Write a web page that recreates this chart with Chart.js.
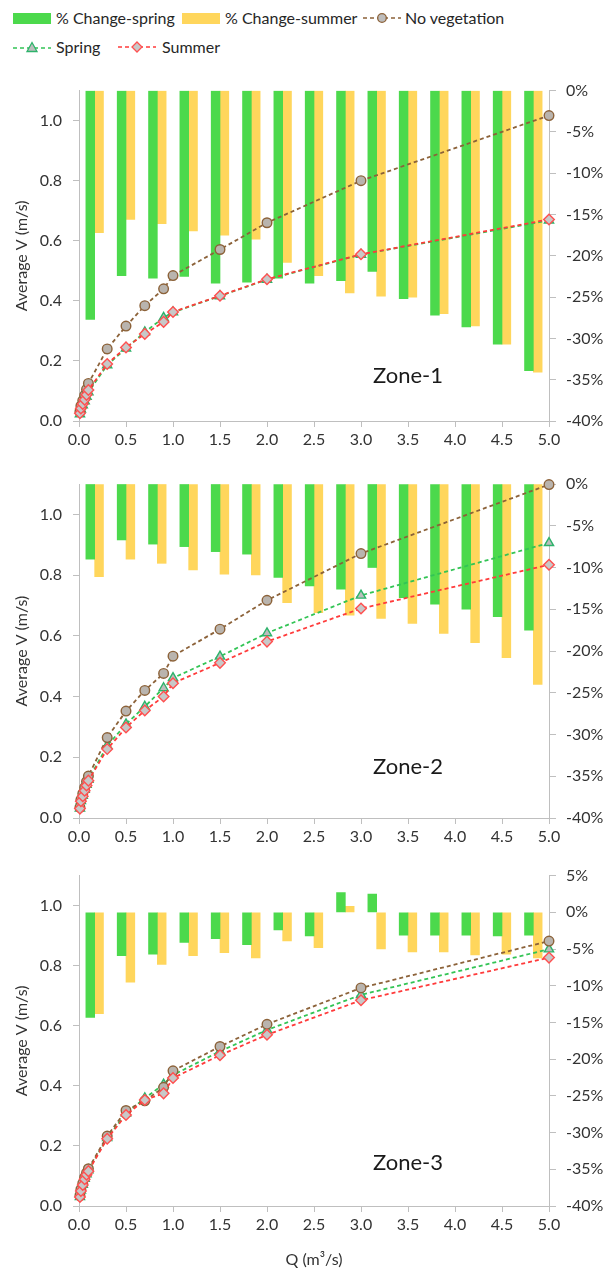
<!DOCTYPE html>
<html>
<head>
<meta charset="utf-8">
<script src="https://cdn.jsdelivr.net/npm/chart.js@4"></script>
<style>
  body { margin: 0; background: #fff; font-family: Lato, "Noto Sans", sans-serif; }
  #wrap { position: relative; width: 609px; height: 1269px; overflow: hidden; }
  canvas { position: absolute; left: 0; }
  .lg { position: absolute; font-size: 16px; color: #262626; line-height: 18px; white-space: nowrap; }
  .sw { position: absolute; }
</style>
</head>
<body>
<div id="wrap">
  <div class="sw" style="left:13px;top:13px;width:38px;height:11px;background:#4cd94c"></div>
  <div class="lg" style="left:56px;top:9px">% Change-spring</div>
  <div class="sw" style="left:182px;top:13px;width:38px;height:11px;background:#ffd65c"></div>
  <div class="lg" style="left:225px;top:9px">% Change-summer</div>
  <svg class="sw" style="left:362px;top:11px" width="40" height="14">
    <line x1="1" y1="7" x2="39" y2="7" stroke="#8c6239" stroke-width="1.5" stroke-dasharray="4,3"/>
    <circle cx="20" cy="7" r="4.3" fill="#bdbdbd" stroke="#8c6239" stroke-width="1.3"/>
  </svg>
  <div class="lg" style="left:405px;top:9px">No vegetation</div>
  <svg class="sw" style="left:12px;top:40px" width="40" height="14">
    <line x1="1" y1="8" x2="39" y2="8" stroke="#33c455" stroke-width="1.5" stroke-dasharray="4,3"/>
    <polygon points="20,2.5 25,11.5 15,11.5" fill="#bdbdbd" stroke="#2db36b" stroke-width="1.3"/>
  </svg>
  <div class="lg" style="left:56px;top:38px">Spring</div>
  <svg class="sw" style="left:117px;top:40px" width="40" height="14">
    <line x1="1" y1="7" x2="39" y2="7" stroke="#ff3b3b" stroke-width="1.5" stroke-dasharray="4,3"/>
    <polygon points="20,2 25,7 20,12 15,7" fill="#c8c8c8" stroke="#ff5050" stroke-width="1.3"/>
  </svg>
  <div class="lg" style="left:162px;top:38px">Summer</div>

  <canvas id="c1" width="609" height="381" style="top:70px"></canvas>
  <canvas id="c2" width="609" height="388" style="top:460px"></canvas>
  <canvas id="c3" width="609" height="414" style="top:855px"></canvas>
</div>
<script>
// discharge values (m3/s)
var Q = [0.01, 0.02, 0.04, 0.06, 0.08, 0.1, 0.3, 0.5, 0.7, 0.9, 1.0, 1.5, 2.0, 3.0, 5.0];

// Zone-1
var pctSpring1 = [-27.7, -22.4, -22.7, -22.5, -23.3, -23.2, -22.7, -23.3, -23.0, -21.9, -25.2, -27.2, -28.6, -30.7, -33.9];
var pctSummer1 = [-17.2, -15.6, -16.1, -17.0, -17.5, -18.0, -20.8, -22.4, -24.5, -24.9, -25.0, -27.0, -28.5, -30.7, -34.1];
var noVeg1 = [0.032, 0.05, 0.068, 0.085, 0.105, 0.125, 0.24, 0.316, 0.384, 0.44, 0.484, 0.571, 0.66, 0.80, 1.017];
var spring1 = [0.023, 0.039, 0.053, 0.066, 0.081, 0.096, 0.186, 0.242, 0.296, 0.344, 0.362, 0.416, 0.471, 0.554, 0.668];
var summer1 = [0.026, 0.042, 0.057, 0.071, 0.087, 0.103, 0.19, 0.245, 0.29, 0.33, 0.363, 0.417, 0.472, 0.555, 0.671];

// Zone-2
var pctSpring2 = [-9.0, -6.7, -7.2, -7.5, -8.1, -8.4, -11.2, -12.2, -12.6, -10.0, -13.6, -14.4, -15.0, -15.9, -17.5];
var pctSummer2 = [-11.1, -9.0, -9.5, -10.3, -10.8, -10.9, -14.2, -15.4, -15.7, -16.1, -16.7, -17.9, -19.0, -20.8, -24.0];
var noVeg2 = [0.035, 0.06, 0.08, 0.10, 0.12, 0.138, 0.265, 0.352, 0.42, 0.476, 0.533, 0.622, 0.717, 0.871, 1.098];
var spring2 = [0.032, 0.056, 0.074, 0.093, 0.11, 0.126, 0.238, 0.309, 0.367, 0.428, 0.461, 0.532, 0.609, 0.733, 0.906];
var summer2 = [0.031, 0.055, 0.072, 0.09, 0.107, 0.123, 0.227, 0.298, 0.354, 0.40, 0.444, 0.511, 0.581, 0.69, 0.834];

// Zone-3
var pctSpring3 = [-14.3, -5.9, -5.7, -4.1, -3.6, -4.4, -2.4, -3.2, 2.7, 2.5, -3.1, -3.1, -3.1, -3.2, -3.1];
var pctSummer3 = [-13.8, -9.5, -7.1, -5.9, -5.5, -6.2, -3.9, -4.8, 0.8, -5.0, -5.4, -5.4, -5.8, -5.7, -6.2];
var noVeg3 = [0.035, 0.055, 0.075, 0.095, 0.11, 0.124, 0.233, 0.318, 0.35, 0.395, 0.45, 0.531, 0.605, 0.726, 0.882];
var spring3 = [0.03, 0.052, 0.071, 0.091, 0.106, 0.119, 0.227, 0.308, 0.359, 0.405, 0.436, 0.515, 0.586, 0.703, 0.855];
var summer3 = [0.03, 0.05, 0.07, 0.089, 0.104, 0.116, 0.224, 0.303, 0.353, 0.375, 0.426, 0.502, 0.57, 0.685, 0.827];

var FONT = 'Lato, "Noto Sans", sans-serif';
var AXIS = '#bfbfbf';
var TXT = '#333333';

function pts(ys) {
  return Q.map(function (q, i) { return { x: q, y: ys[i] }; });
}

// draws the "Zone-n" text inside the plot
var zoneLabel = {
  id: 'zoneLabel',
  afterDraw: function (chart, args, opts) {
    var a = chart.chartArea, ctx = chart.ctx;
    ctx.save();
    ctx.font = '22px ' + FONT;
    ctx.fillStyle = '#1a1a1a';
    ctx.textAlign = 'center';
    ctx.textBaseline = 'middle';
    ctx.fillText(opts.text, a.left + a.width * 0.7, a.bottom - opts.dy);
    ctx.restore();
  }
};

function makeChart(id, zone, pS, pU, nv, sp, su, rMax, padTop, xHeight, showTitle, dy) {
  new Chart(document.getElementById(id), {
    type: 'bar',
    data: {
      labels: Q.map(String),
      datasets: [
        { type: 'line', label: 'No vegetation', data: pts(nv), xAxisID: 'x', yAxisID: 'y', order: 1, clip: false,
          borderColor: '#8c6239', borderWidth: 1.8, borderDash: [4, 3], pointStyle: 'circle', pointRadius: 4.8,
          pointBackgroundColor: '#b9b4ae', pointBorderColor: '#8c6239', pointBorderWidth: 1.4, fill: false },
        { type: 'line', label: 'Summer', data: pts(su), xAxisID: 'x', yAxisID: 'y', order: 0, clip: false,
          borderColor: '#ff3b3b', borderWidth: 1.8, borderDash: [4, 3], pointStyle: 'rectRot', pointRadius: 5.3,
          pointBackgroundColor: '#c8c8c8', pointBorderColor: '#ff5050', pointBorderWidth: 1.4, fill: false },
        { type: 'line', label: 'Spring', data: pts(sp), xAxisID: 'x', yAxisID: 'y', order: 2, clip: false,
          borderColor: '#33c455', borderWidth: 1.8, borderDash: [4, 3], pointStyle: 'triangle', pointRadius: 5.3,
          pointBackgroundColor: '#bdbdbd', pointBorderColor: '#2db36b', pointBorderWidth: 1.4, fill: false },
        { label: '% Change-spring', data: pS, xAxisID: 'xb', yAxisID: 'yr', order: 5,
          backgroundColor: '#4cd94c', barThickness: 8.8 },
        { label: '% Change-summer', data: pU, xAxisID: 'xb', yAxisID: 'yr', order: 5,
          backgroundColor: '#ffd65c', barThickness: 8.8 }
      ]
    },
    options: {
      responsive: false,
      animation: false,
      layout: { padding: { top: padTop, left: 0, right: 0, bottom: 0 } },
      plugins: { legend: { display: false }, tooltip: { enabled: false }, zoneLabel: { text: zone, dy: dy } },
      scales: {
        xb: { type: 'category', display: false, offset: true },
        x: {
          type: 'linear', position: 'bottom', min: 0, max: 5, offset: false,
          afterFit: function (s) { s.height = xHeight; },
          border: { color: AXIS, width: 1 },
          grid: { offset: false, drawOnChartArea: false, drawTicks: true, tickLength: 6, color: AXIS },
          ticks: { stepSize: 0.5, padding: 3, color: TXT, font: { family: FONT, size: 16 },
            callback: function (v) { return v.toFixed(1); } },
          title: { display: showTitle, text: 'Q (m³/s)', color: TXT, font: { family: FONT, size: 16 },
            padding: { top: 0, bottom: 0 } }
        },
        y: {
          position: 'left', min: 0, max: 1.1,
          afterFit: function (s) { s.width = 79; },
          border: { color: AXIS, width: 1 },
          grid: { drawOnChartArea: false, drawTicks: true, tickLength: 6, color: AXIS },
          ticks: { stepSize: 0.2, includeBounds: false, padding: 11, color: TXT, font: { family: FONT, size: 16 },
            callback: function (v) { return v.toFixed(1); } },
          title: { display: true, text: 'Average V (m/s)', color: TXT, font: { family: FONT, size: 16 },
            padding: { top: 12, bottom: 0 } }
        },
        yr: {
          position: 'right', min: -40, max: rMax,
          afterFit: function (s) { s.width = 60; },
          border: { color: AXIS, width: 1 },
          grid: { drawOnChartArea: false, drawTicks: true, tickLength: 7, color: AXIS },
          ticks: { stepSize: 5, padding: 10, color: TXT, font: { family: FONT, size: 16 },
            callback: function (v) { return v + '%'; } }
        }
      }
    },
    plugins: [zoneLabel]
  });
}

makeChart('c1', 'Zone-1', pctSpring1, pctSummer1, noVeg1, spring1, summer1, 0, 17, 30, false, 45);
makeChart('c2', 'Zone-2', pctSpring2, pctSummer2, noVeg2, spring2, summer2, 0, 24, 30, false, 51);
makeChart('c3', 'Zone-3', pctSpring3, pctSummer3, noVeg3, spring3, summer3, 5, 16, 63, true, 43);
</script>
</body>
</html>
